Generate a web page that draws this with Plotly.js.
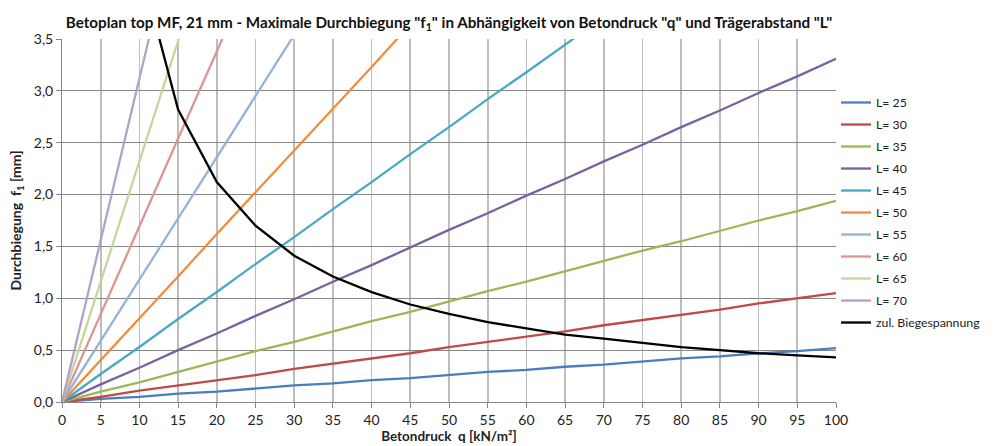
<!DOCTYPE html>
<html><head><meta charset="utf-8">
<script src="https://cdn.plot.ly/plotly-3.0.1.min.js"></script>
<style>html,body{margin:0;padding:0;background:#fff}#c{width:998px;height:446px}</style>
</head><body><div id="c"></div>
<script>
const xAll = [0,5,10,15,20,25,30,35,40,45,50,55,60,65,70,75,80,85,90,95,100];
const L25 = [0,0.03,0.05,0.08,0.10,0.13,0.16,0.18,0.21,0.23,0.26,0.29,0.31,0.34,0.36,0.39,0.42,0.44,0.47,0.49,0.52];
const L30 = [0,0.05,0.11,0.16,0.21,0.26,0.32,0.37,0.42,0.47,0.53,0.58,0.63,0.68,0.74,0.79,0.84,0.89,0.95,1.00,1.05];
const L35 = [0,0.10,0.19,0.29,0.39,0.49,0.58,0.68,0.78,0.87,0.97,1.07,1.16,1.26,1.36,1.46,1.55,1.65,1.75,1.84,1.94];
const L40 = [0,0.17,0.33,0.50,0.66,0.83,0.99,1.16,1.32,1.49,1.66,1.82,1.99,2.15,2.32,2.48,2.65,2.81,2.98,3.14,3.31];
const L45 = [0,0.27,0.53,0.80,1.06,1.33,1.59,1.86,2.12,2.39,2.65,2.92,3.18,3.45,3.71];
const L50 = [0,0.40,0.81,1.21,1.62,2.02,2.42,2.83,3.23,3.64];
const L55 = [0,0.59,1.18,1.77,2.36,2.95,3.54];
const L60 = [0,0.85,1.69,2.54,3.38,4.23];
const L65 = [0,1.16,2.32,3.48,4.64];
const L70 = [0,1.56,3.12,4.68];
const xZul = [10,15,20,25,30,35,40,45,50,55,60,65,70,75,80,85,90,95,100];
const zul = [4.23,2.82,2.12,1.70,1.41,1.21,1.06,0.94,0.85,0.77,0.71,0.65,0.61,0.57,0.53,0.50,0.47,0.45,0.43];

const names = ['L= 25','L= 30','L= 35','L= 40','L= 45','L= 50','L= 55','L= 60','L= 65','L= 70'];
const series = [L25,L30,L35,L40,L45,L50,L55,L60,L65,L70];
const colors = ['#4A7EBB','#BE4B48','#98B954','#7D60A0','#46AAC5','#F28C3A','#95B3D7','#D99694','#C3D69B','#B3A2C7'];

const traces = series.map((s,i)=>({
  x: xAll.slice(0,s.length), y: s, name: names[i], legendgroup:'g'+i, type:'scatter', mode:'lines',
  line:{color:colors[i], width:2.3}
}));
traces.push({x:xZul, y:zul, name:'zul. Biegespannung', legendgroup:'gz', type:'scatter', mode:'lines', line:{color:'#000000', width:2.3}});

const font = 'Lato, "Open Sans", "Liberation Sans", sans-serif';
const layout = {
  width:998, height:446,
  margin:{l:62, r:162, t:39, b:44},
  paper_bgcolor:'#fff', plot_bgcolor:'#fff',
  font:{family:font, size:13, color:'#222'},
  separators:',.',
  title:{text:'<b>Betoplan top MF, 21 mm - Maximale Durchbiegung "f<sub>1</sub>" in Abhängigkeit von Betondruck "q" und Trägerabstand "L"</b>',
    font:{size:15.2, color:'#111'}, x:0.5, xref:'paper', xanchor:'center', y:0.95, yanchor:'middle'},
  xaxis:{range:[0,100], dtick:10, tick0:0, showgrid:true, gridcolor:'#BDBDBD', gridwidth:1.6,
    minor:{dtick:5, showgrid:true, gridcolor:'#868686', gridwidth:1, ticks:'outside', ticklen:5, tickcolor:'#868686'},
    ticks:'outside', ticklen:5, tickcolor:'#868686', showline:true, linecolor:'#868686', linewidth:1,
    zeroline:false, tickfont:{size:14, color:'#222'},
    tickvals:xAll, ticktext:xAll.map(String),
    title:{text:'<b>Betondruck  q [kN/m²]</b>', font:{size:13.5, color:'#222'}, standoff:3}},
  yaxis:{range:[0,3.5], dtick:0.5, tick0:0, tickformat:'.1f', showgrid:true, gridcolor:'#868686', gridwidth:1,
    ticks:'outside', ticklen:5, tickcolor:'#868686', showline:true, linecolor:'#868686', linewidth:1,
    zeroline:false, tickfont:{size:14, color:'#222'},
    title:{text:'<b>Durchbiegung  f<sub>1</sub> [mm]</b>', font:{size:14, color:'#222'}, standoff:8}},
  legend:{x:1.0, xanchor:'left', y:0.522, yanchor:'middle', font:{size:12.3, color:'#222'},
    tracegroupgap:3, itemwidth:30, bgcolor:'rgba(0,0,0,0)', borderwidth:0},
  showlegend:true
};
Plotly.newPlot('c', traces, layout, {staticPlot:true});
</script></body></html>
